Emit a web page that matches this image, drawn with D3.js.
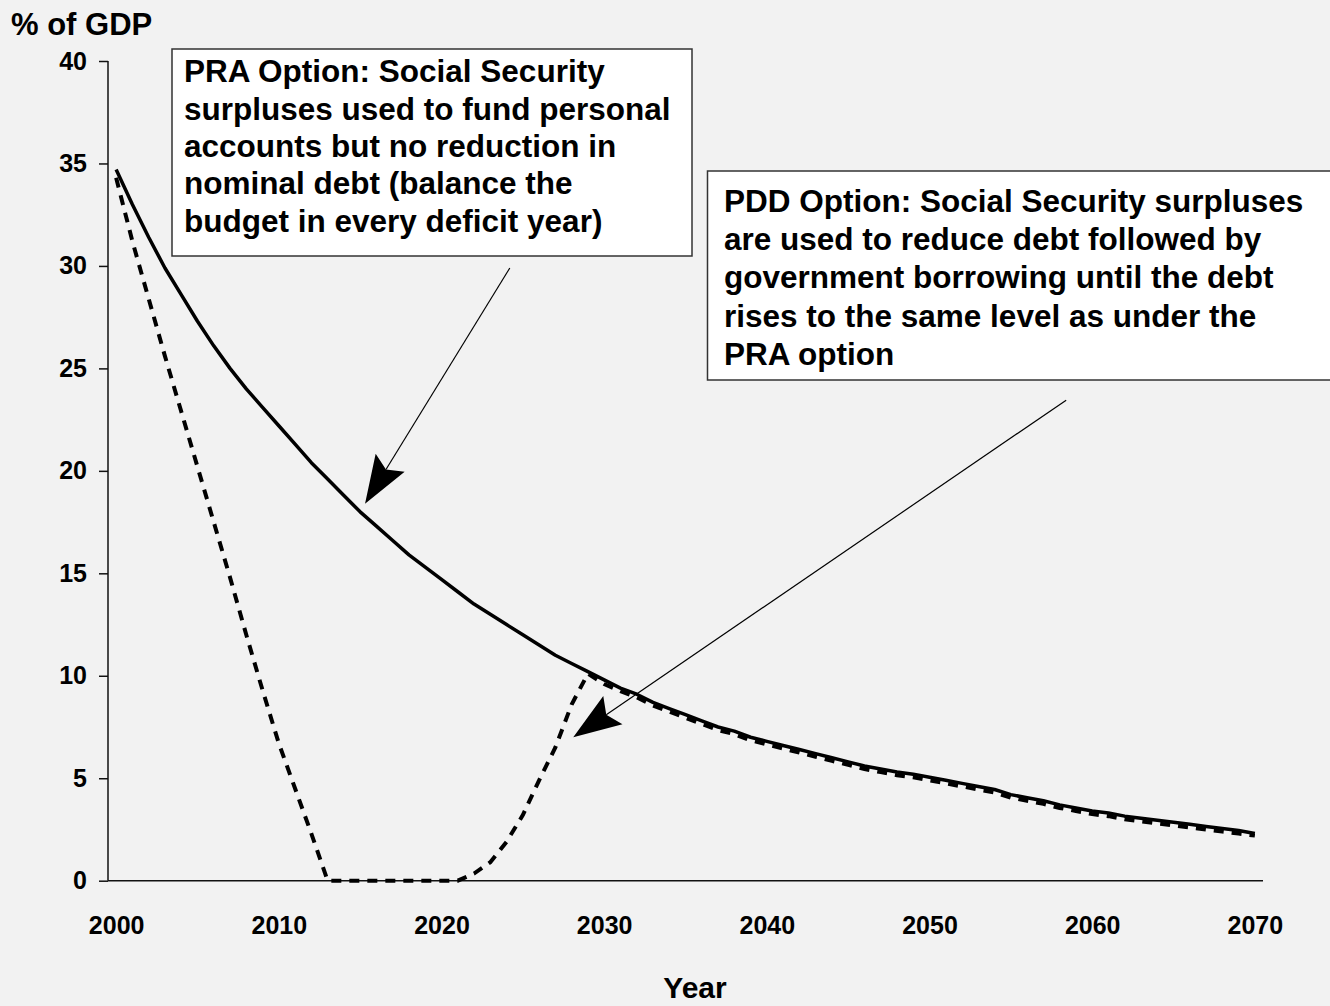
<!DOCTYPE html>
<html>
<head>
<meta charset="utf-8">
<script src="https://cdn.jsdelivr.net/npm/d3@7"></script>
<style>
  html, body { margin: 0; padding: 0; background: #f2f2f2; }
  svg { display: block; font-family: "Liberation Sans", Arial, Helvetica, sans-serif; font-weight: bold; }
</style>
</head>
<body>
<svg id="chart" width="1330" height="1006"></svg>
<script>
// ---------- data ----------
const years = d3.range(2000, 2071);
const xTickLabels = [2000, 2010, 2020, 2030, 2040, 2050, 2060, 2070];
const yTickValues = [0, 5, 10, 15, 20, 25, 30, 35, 40];

// PRA option (solid line), % of GDP, 2000..2070
const praValues = [
  34.7, 33.0, 31.4, 29.9, 28.6, 27.3, 26.1, 25.0, 24.0, 23.1,
  22.2, 21.3, 20.4, 19.6, 18.8, 18.0, 17.3, 16.6, 15.9, 15.3,
  14.7, 14.1, 13.5, 13.0, 12.5, 12.0, 11.5, 11.0, 10.6, 10.2,
  9.8, 9.4, 9.1, 8.7, 8.4, 8.1, 7.8, 7.5, 7.3, 7.0,
  6.8, 6.6, 6.4, 6.2, 6.0, 5.8, 5.6, 5.45, 5.3, 5.2,
  5.05, 4.9, 4.75, 4.6, 4.45, 4.2, 4.05, 3.9, 3.7, 3.55,
  3.4, 3.3, 3.15, 3.05, 2.95, 2.85, 2.75, 2.65, 2.55, 2.45,
  2.3
];

// PDD option (dashed line), % of GDP, 2000..2070
const pddValues = [
  34.3, 31.2, 28.4, 25.6, 22.9, 20.2, 17.5, 14.8, 12.0, 9.3,
  6.7, 4.5, 2.3, 0, 0, 0, 0, 0, 0, 0,
  0, 0, 0.35, 0.9, 1.9, 3.2, 4.9, 6.5, 8.6, 10.1,
  9.6, 9.25, 8.95, 8.55, 8.25, 7.95, 7.65, 7.35, 7.15, 6.85,
  6.65, 6.45, 6.25, 6.05, 5.85, 5.65, 5.45, 5.3, 5.15, 5.05,
  4.9, 4.75, 4.6, 4.45, 4.3, 4.05, 3.9, 3.75, 3.55, 3.4,
  3.25, 3.15, 3.0, 2.9, 2.8, 2.7, 2.6, 2.5, 2.4, 2.3,
  2.2
];

const yAxisTitle = "% of GDP";
const xAxisTitle = "Year";

const praNoteLines = [
  "PRA Option: Social Security",
  "surpluses used to fund personal",
  "accounts but no reduction in",
  "nominal debt (balance the",
  "budget in every deficit year)"
];
const pddNoteLines = [
  "PDD Option: Social Security surpluses",
  "are used to reduce debt followed by",
  "government borrowing until the debt",
  "rises to the same level as under the",
  "PRA option"
];
// arrow anchors in data coordinates: [year, value]
const praArrowFrom = [2024.2, 29.9];
const praArrowTo   = [2015.3, 18.4];
const pddArrowFrom = [2058.4, 23.45];
const pddArrowTo   = [2028.1, 7.0];

// ---------- layout ----------
const svg = d3.select("#chart");
const plotLeft = 108, plotRight = 1263, plotTop = 61, plotBottom = 880.7;

const x = d3.scalePoint().domain(years).range([plotLeft, plotRight]).padding(0.5);
const y = d3.scaleLinear().domain([0, 40]).range([plotBottom, plotTop]);
// continuous year scale (same mapping as the point scale) for annotations
const xc = d3.scaleLinear().domain([years[0], years[years.length - 1]])
  .range([x(years[0]), x(years[years.length - 1])]);

svg.append("rect").attr("width", 1330).attr("height", 1006).attr("fill", "#f2f2f2");

// y axis
const yAxis = svg.append("g")
  .attr("transform", `translate(${plotLeft},0)`)
  .call(d3.axisLeft(y).tickValues(yTickValues).tickSize(9).tickPadding(12));
yAxis.select(".domain").attr("stroke", "#111").attr("stroke-width", 1.5)
  .attr("d", `M0,${plotTop}V${plotBottom}`);
yAxis.selectAll(".tick line").attr("stroke", "#111").attr("stroke-width", 1.5);
yAxis.selectAll(".tick text").attr("font-size", 25).attr("font-weight", "bold")
  .attr("fill", "#000").attr("font-family", "Liberation Sans, Arial, sans-serif");

// x axis
const xAxis = svg.append("g")
  .attr("transform", `translate(0,${plotBottom})`)
  .call(d3.axisBottom(x).tickValues(xTickLabels).tickSize(0).tickPadding(0));
xAxis.select(".domain").attr("stroke", "#111").attr("stroke-width", 1.5)
  .attr("d", `M${plotLeft},0H${plotRight}`);
xAxis.selectAll(".tick text").attr("font-size", 25).attr("font-weight", "bold")
  .attr("fill", "#000").attr("dy", null).attr("y", 53)
  .attr("font-family", "Liberation Sans, Arial, sans-serif");

// titles
svg.append("text").attr("x", 11).attr("y", 35).attr("font-size", 31).text(yAxisTitle);
svg.append("text").attr("x", 695).attr("y", 998).attr("text-anchor", "middle")
  .attr("font-size", 30).text(xAxisTitle);

// lines
const line = d3.line().x((d, i) => x(years[i])).y(d => y(d));
svg.append("path").datum(pddValues).attr("d", line)
  .attr("fill", "none").attr("stroke", "#000").attr("stroke-width", 4)
  .attr("stroke-dasharray", "10,8");
svg.append("path").datum(praValues).attr("d", line)
  .attr("fill", "none").attr("stroke", "#000").attr("stroke-width", 3.5)
  .attr("stroke-linejoin", "round");

// note boxes
function noteBox(x0, y0, w, h, lines, tx, firstBase, lh) {
  svg.append("rect").attr("x", x0).attr("y", y0).attr("width", w).attr("height", h)
    .attr("fill", "#fff").attr("stroke", "#333").attr("stroke-width", 1.5);
  const t = svg.append("text").attr("font-size", 31.5).attr("fill", "#000");
  lines.forEach((s, i) => {
    t.append("tspan").attr("x", tx).attr("y", firstBase + i * lh).text(s);
  });
}
noteBox(172, 49, 520, 207, praNoteLines, 184, 82.3, 37.35);
noteBox(707.5, 171, 640, 209, pddNoteLines, 724, 211.7, 38.3);

// arrows
function arrow(from, to) {
  const x1 = xc(from[0]), y1 = y(from[1]), x2 = xc(to[0]), y2 = y(to[1]);
  const ang = Math.atan2(y2 - y1, x2 - x1);
  const L = 48, W = 17;
  const bx = x2 - L * Math.cos(ang), by = y2 - L * Math.sin(ang);
  const nx = -Math.sin(ang), ny = Math.cos(ang);
  const mx = x2 - (L - 8) * Math.cos(ang), my = y2 - (L - 8) * Math.sin(ang);
  svg.append("line").attr("x1", x1).attr("y1", y1).attr("x2", mx).attr("y2", my)
    .attr("stroke", "#000").attr("stroke-width", 1.2);
  svg.append("path")
    .attr("d", `M${x2},${y2}L${bx + nx * W},${by + ny * W}L${mx},${my}L${bx - nx * W},${by - ny * W}Z`)
    .attr("fill", "#000");
}
arrow(praArrowFrom, praArrowTo);
arrow(pddArrowFrom, pddArrowTo);
</script>
</body>
</html>
